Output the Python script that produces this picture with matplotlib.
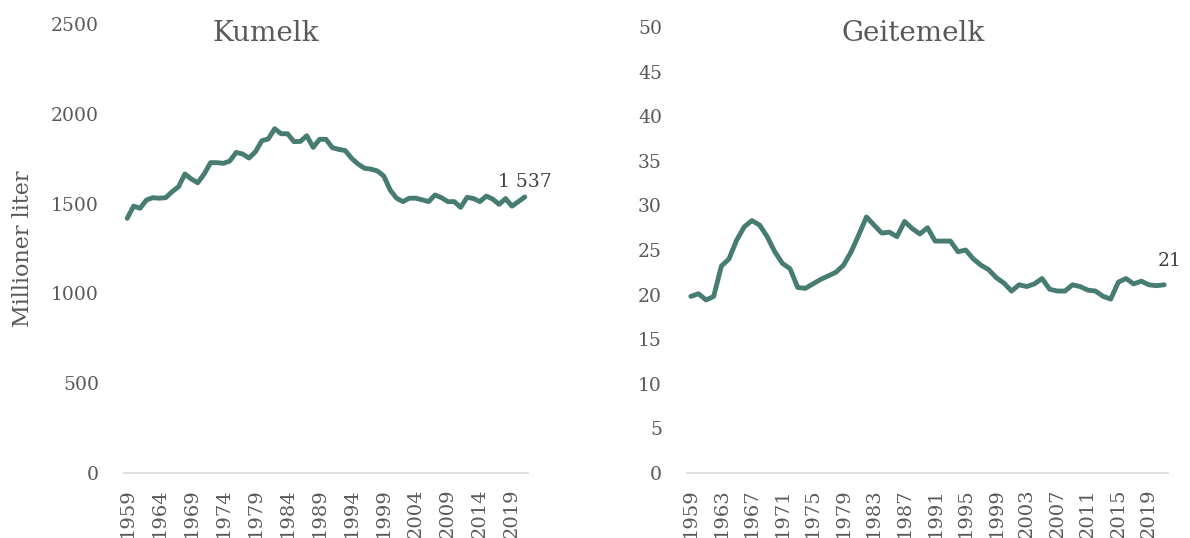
import matplotlib
matplotlib.use("Agg")
import matplotlib.pyplot as plt
import numpy as np

years = list(range(1959, 2022))

# Kumelk, millioner liter
kumelk = [1418, 1486, 1474, 1520, 1533, 1530, 1533, 1566, 1594, 1665,
          1637, 1616, 1665, 1728, 1728, 1724, 1737, 1785, 1776, 1754,
          1789, 1850, 1860, 1917, 1889, 1889, 1845, 1846, 1878, 1813,
          1858, 1858, 1811, 1802, 1795, 1752, 1720, 1697, 1692, 1682,
          1654, 1576, 1530, 1511, 1530, 1530, 1521, 1511, 1548, 1533,
          1511, 1511, 1479, 1535, 1528, 1511, 1542, 1525, 1496, 1528,
          1486, 1511, 1537]

# Geitemelk, millioner liter
geitemelk = [19.8, 20.1, 19.4, 19.8, 23.2, 24.0, 26.1, 27.6, 28.3, 27.8,
             26.5, 24.8, 23.5, 22.9, 20.8, 20.7, 21.2, 21.7, 22.1, 22.5,
             23.3, 24.8, 26.7, 28.7, 27.8, 26.9, 27.0, 26.5, 28.2, 27.4,
             26.8, 27.5, 26.0, 26.0, 26.0, 24.8, 25.0, 24.0, 23.3, 22.8,
             21.9, 21.3, 20.4, 21.1, 20.9, 21.2, 21.8, 20.6, 20.4, 20.4,
             21.1, 20.9, 20.5, 20.4, 19.8, 19.5, 21.4, 21.8, 21.2, 21.5,
             21.1, 21.0, 21.1]

line_color = "#467c72"
text_color = "#595959"
font = "DejaVu Serif"

fig = plt.figure(figsize=(11.9, 5.38), dpi=100)
ax1 = fig.add_axes([124 / 1190, 1 - 473 / 538, 404 / 1190, 449 / 538])
ax2 = fig.add_axes([687 / 1190, 1 - 473 / 538, 481 / 1190, 446 / 538])


def style(ax, vals, title, title_x, title_y, ymax, ystep, xstep, label, label_dx, label_dy):
    x = np.arange(len(years))
    ax.plot(x, vals, color=line_color, lw=3.5, solid_capstyle="round",
            solid_joinstyle="round")
    ax.set_xlim(-0.5, len(years) - 0.5)
    ax.set_ylim(0, ymax)
    ax.set_yticks(np.arange(0, ymax + ystep / 2, ystep))
    ax.set_xticks(x[::xstep])
    ax.set_xticklabels([str(y) for y in years[::xstep]], rotation=90)
    for s in ["top", "right", "left"]:
        ax.spines[s].set_visible(False)
    ax.spines["bottom"].set_color("#d9d9d9")
    ax.spines["bottom"].set_linewidth(1.2)
    ax.tick_params(length=0, labelcolor=text_color)
    ax.tick_params(axis="y", pad=18, labelsize=13.5)
    ax.tick_params(axis="x", pad=11, labelsize=14)
    for t in ax.get_xticklabels() + ax.get_yticklabels():
        t.set_fontfamily(font)
    ax.set_title(title, fontsize=20, color=text_color, fontfamily=font,
                 y=title_y, x=title_x)
    ax.annotate(label, (x[-1], vals[-1]), xytext=(label_dx, label_dy),
                textcoords="offset points", ha="center", va="center",
                fontsize=13.5, color="#404040", fontfamily=font)


style(ax1, kumelk, "Kumelk", 0.35, 0.943, 2500, 500, 5, "1 537", 0, 11)
style(ax2, geitemelk, "Geitemelk", 0.47, 0.95, 50, 5, 4, "21", 4, 17)
ax1.set_ylabel("Millioner liter", fontsize=16, color=text_color,
               fontfamily=font, labelpad=12)

fig.savefig("out.png", dpi=100)
